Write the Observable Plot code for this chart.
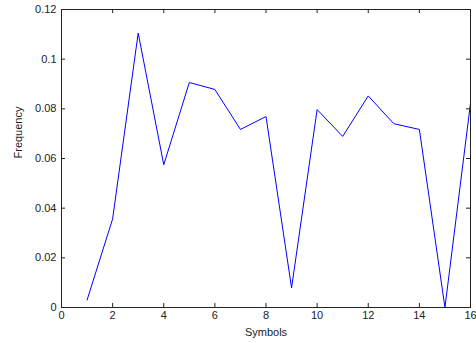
<!DOCTYPE html>
<html>
<head>
<meta charset="utf-8">
<script src="https://cdn.jsdelivr.net/npm/d3@7"></script>
<script src="https://cdn.jsdelivr.net/npm/@observablehq/plot@0.6"></script>
<style>
html, body { margin: 0; padding: 0; background: #fff; }
#chart svg { display: block; }
</style>
</head>
<body>
<div id="chart"></div>
<script>
const symbols = [1, 2, 3, 4, 5, 6, 7, 8, 9, 10, 11, 12, 13, 14, 15, 16];
const frequency = [0.003, 0.0357, 0.1105, 0.0575, 0.0906, 0.0878, 0.0717, 0.0769, 0.0079, 0.0797, 0.0689, 0.0852, 0.0740, 0.0717, 0.0, 0.0823];
const xTicks = [0, 2, 4, 6, 8, 10, 12, 14, 16];
const yTicks = [0, 0.02, 0.04, 0.06, 0.08, 0.1, 0.12];
const xLabel = "Symbols";
const yLabel = "Frequency";

const data = symbols.map((s, i) => ({s, f: frequency[i]}));
const font = "Liberation Sans, Arial, sans-serif";

const W = 476, H = 343, mL = 61, mR = 6, mT = 9, mB = 36;
const plotW = W - mL - mR, plotH = H - mT - mB, tick = 4;

const chart = Plot.plot({
  width: W,
  height: H,
  marginLeft: mL,
  marginRight: mR,
  marginTop: mT,
  marginBottom: mB,
  style: {fontFamily: font, fontSize: "11px", color: "#222", background: "#fff"},
  x: {domain: [0, 16]},
  y: {domain: [0, 0.12]},
  marks: [
    Plot.line(data, {x: "s", y: "f", stroke: "#0000ff", strokeWidth: 1}),
    Plot.axisX({anchor: "bottom", ticks: xTicks, tickSize: 0, tickPadding: 4, tickFormat: d => String(d), label: null, fill: "#222"}),
    Plot.axisY({anchor: "left", ticks: yTicks, tickSize: 0, tickPadding: 5, tickFormat: d => String(d), label: null, fill: "#222"}),
    Plot.ruleX(xTicks, {x: d => d, insetTop: plotH - tick, stroke: "#222"}),
    Plot.ruleX(xTicks, {x: d => d, insetBottom: plotH - tick, stroke: "#222"}),
    Plot.ruleY(yTicks, {y: d => d, insetRight: plotW - tick, stroke: "#222"}),
    Plot.ruleY(yTicks, {y: d => d, insetLeft: plotW - tick, stroke: "#222"}),
    Plot.frame({stroke: "#222", strokeWidth: 1}),
    Plot.text([xLabel], {frameAnchor: "bottom", dy: 28, text: d => d, fill: "#222", fontSize: 11}),
    Plot.text([yLabel], {frameAnchor: "left", dx: -43, rotate: -90, text: d => d, fill: "#222", fontSize: 11})
  ]
});
document.getElementById("chart").appendChild(chart);
</script>
</body>
</html>
